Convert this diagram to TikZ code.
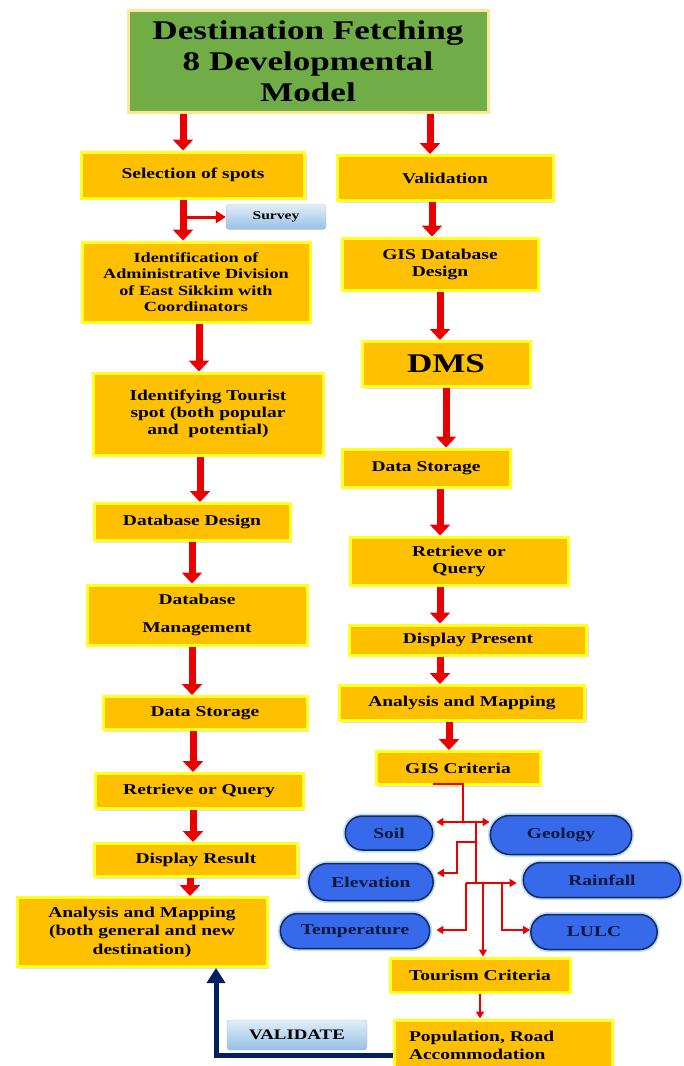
\documentclass[tikz,border=0pt]{standalone}
\usepackage{fontspec}
\setmainfont{Liberation Serif}
\newfontfamily\widefont[FakeStretch=1.3]{Liberation Serif}
\usepackage{tikz}
\usepackage{xcolor}
\usetikzlibrary{shapes.misc}
\usetikzlibrary{shadows}
\usetikzlibrary{calc}
\usetikzlibrary{positioning, arrows.meta}
\definecolor{boxfill}{RGB}{255,192,0}
\definecolor{boxedge}{RGB}{255,255,40}
\definecolor{titlefill}{RGB}{112,173,71}
\definecolor{titleedge}{RGB}{250,232,150}
\definecolor{ovalfill}{RGB}{55,105,235}
\definecolor{ovaledge}{RGB}{20,40,95}
\definecolor{ovalglow}{RGB}{190,225,250}
\definecolor{taglight}{RGB}{225,238,250}
\definecolor{tagdark}{RGB}{150,192,228}
\definecolor{arrowred}{RGB}{235,0,0}
\definecolor{backnavy}{RGB}{0,32,96}

\begin{document}
\begin{tikzpicture}[x=1pt,y=-1pt]
                % Define the styles for boxes, ovals and arrows
                \tikzstyle{box}=[draw=boxedge, line width=3pt, fill=boxfill, align=center, inner sep=2pt,
                    font=\widefont\bfseries\fontsize{15}{17}\selectfont,
                    drop shadow={opacity=0.25, shadow xshift=2pt, shadow yshift=-2pt}];
                \tikzstyle{titlebox}=[draw=titleedge, line width=3pt, fill=titlefill, align=center,
                    font=\widefont\bfseries\fontsize{27}{31}\selectfont,
                    drop shadow={opacity=0.2, shadow xshift=2pt, shadow yshift=-2pt}];
                \tikzstyle{oval}=[rounded rectangle, draw=ovaledge, line width=1.5pt, fill=ovalfill,
                    preaction={draw=ovalglow, line width=5pt},
                    text=ovaledge!60!black, font=\widefont\bfseries\fontsize{15}{17}\selectfont];
                \tikzstyle{tag}=[draw=gray!50, rounded corners=3pt, top color=taglight, bottom color=tagdark,
                    font=\widefont\bfseries\fontsize{12}{14}\selectfont, minimum height=25pt];
                \tikzstyle{bigarrow}=[draw=arrowred, line width=7pt, -{Triangle[width=20pt,length=11pt]}];
                \tikzstyle{midarrow}=[draw=arrowred, line width=3pt, -{Triangle[width=12pt,length=10pt]}];
                \tikzstyle{thinline}=[draw=arrowred, line width=2pt];
                \tikzstyle{thinarrow}=[draw=arrowred, line width=2pt, -{Triangle[width=8pt,length=7pt]}];
                \tikzstyle{backarrow}=[draw=backnavy, line width=5pt, -{Triangle[width=18pt,length=15pt]}];

                % Fix the page
                \useasboundingbox (0,0) rectangle (684,1066);

                % Title
                \node[titlebox, minimum width=360pt, minimum height=102pt] (title) at (308,61)
                    {Destination Fetching\\8 Developmental\\Model};

                % Left column
                \node[box, minimum width=223pt, minimum height=46pt] (sel) at (193,175) {Selection of spots};
                \node[tag, minimum width=100pt] (surv) at (276,217) {Survey};
                \node[box, minimum width=228pt, minimum height=80pt, font=\widefont\bfseries\fontsize{14}{16.5}\selectfont] (ident) at (196,282)
                    {Identification of\\Administrative Division\\of East Sikkim with\\Coordinators};
                \node[box, minimum width=230pt, minimum height=82pt] (tour) at (208,414)
                    {Identifying Tourist\\spot (both popular\\and\ \ potential)};
                \node[box, minimum width=196pt, minimum height=37pt] (dbd) at (192,522) {Database Design};
                \node[box, minimum width=220pt, minimum height=60pt] (dbm) at (197,615) {Database\\[11pt]Management};
                \node[box, minimum width=204pt, minimum height=33pt] (lstore) at (205,713) {Data Storage};
                \node[box, minimum width=208pt, minimum height=35pt] (lquery) at (199,791) {Retrieve or Query};
                \node[box, minimum width=203pt, minimum height=33pt] (lresult) at (196,860) {Display Result};
                \node[box, minimum width=250pt, minimum height=69pt, font=\widefont\bfseries\fontsize{15}{18.5}\selectfont] (lanal) at (142,932)
                    {Analysis and Mapping\\(both general and new\\destination)};

                % Right column
                \node[box, minimum width=216pt, minimum height=45pt] (valid) at (445,178) {Validation};
                \node[box, minimum width=196pt, minimum height=52pt] (gisdb) at (440,264) {GIS Database\\Design};
                \node[box, minimum width=168pt, minimum height=45pt, font=\widefont\bfseries\fontsize{27}{30}\selectfont] (dms) at (446,364) {DMS};
                \node[box, minimum width=168pt, minimum height=38pt] (rstore) at (426,468) {Data Storage};
                \node[box, minimum width=218pt, minimum height=48pt] (rquery) at (459,561) {Retrieve or\\Query};
                \node[box, minimum width=237pt, minimum height=30pt] (rdisp) at (468,640) {Display Present};
                \node[box, minimum width=245pt, minimum height=35pt] (ranal) at (462,703) {Analysis and Mapping};
                \node[box, minimum width=164pt, minimum height=33pt] (gisc) at (458,768) {GIS Criteria};

                % GIS criteria ovals
                \node[oval, minimum width=94pt, minimum height=34pt] (soil) at (389,833) {Soil};
                \node[oval, minimum width=148pt, minimum height=39pt] (geol) at (561,835) {Geology};
                \node[oval, minimum width=131pt, minimum height=37pt] (elev) at (371,882) {Elevation};
                \node[oval, minimum width=164pt, minimum height=35pt] (rain) at (602,880) {Rainfall};
                \node[oval, minimum width=156pt, minimum height=35pt] (temp) at (355,931) {Temperature};
                \node[oval, minimum width=133pt, minimum height=35pt] (lulc) at (594,932) {LULC};

                % Tourism criteria and the way back
                \node[box, minimum width=180pt, minimum height=34pt] (tcrit) at (480,975) {Tourism Criteria};
                \node[box, minimum height=50pt, align=left, text width=188pt, inner xsep=15pt, inner ysep=8pt,
                    font=\widefont\bfseries\fontsize{15}{18}\selectfont] (pop) at (503,1045)
                    {Population, Road\\Accommodation};
                \node[tag, minimum width=140pt, minimum height=30pt, font=\widefont\bfseries\fontsize{14.5}{16}\selectfont] (valbtn) at (297,1035) {VALIDATE};

                % Arrows of the left column
                \draw[bigarrow] ([xshift=-10pt]sel.north |- title.south) -- ([xshift=-10pt]sel.north);
                \draw[bigarrow] ([xshift=-10pt]sel.south) -- ([xshift=-10pt]sel.south |- ident.north);
                \draw[midarrow] ([xshift=-10pt]sel.south |- surv.west) -- (surv.west);
                \draw[bigarrow] ([xshift=3pt]ident.south) -- ([xshift=3pt]ident.south |- tour.north);
                \draw[bigarrow] ([xshift=-8pt]tour.south) -- ([xshift=-8pt]tour.south |- dbd.north);
                \draw[bigarrow] (dbd.south) -- (dbd.south |- dbm.north);
                \draw[bigarrow] ([xshift=-5pt]dbm.south) -- ([xshift=-5pt]dbm.south |- lstore.north);
                \draw[bigarrow] ([xshift=-12pt]lstore.south) -- ([xshift=-12pt]lstore.south |- lquery.north);
                \draw[bigarrow] ([xshift=-6pt]lquery.south) -- ([xshift=-6pt]lquery.south |- lresult.north);
                \draw[bigarrow] ([xshift=-6pt]lresult.south) -- ([xshift=-6pt]lresult.south |- lanal.north);

                % Arrows of the right column
                \draw[bigarrow] ([xshift=-15pt]valid.north |- title.south) -- ([xshift=-15pt]valid.north);
                \draw[bigarrow] ([xshift=-13pt]valid.south) -- ([xshift=-13pt]valid.south |- gisdb.north);
                \draw[bigarrow] (gisdb.south) -- (gisdb.south |- dms.north);
                \draw[bigarrow] (dms.south) -- (dms.south |- rstore.north);
                \draw[bigarrow] ([xshift=14pt]rstore.south) -- ([xshift=14pt]rstore.south |- rquery.north);
                \draw[bigarrow] ([xshift=-19pt]rquery.south) -- ([xshift=-19pt]rquery.south |- rdisp.north);
                \draw[bigarrow] ([xshift=-28pt]rdisp.south) -- ([xshift=-28pt]rdisp.south |- ranal.north);
                \draw[bigarrow] ([xshift=-13pt]ranal.south) -- ([xshift=-13pt]ranal.south |- gisc.north);

                % Branches under GIS criteria
                \coordinate (g0) at (433,784);
                \coordinate (g1) at (463,784);
                \coordinate (g2) at (463,822);
                \coordinate (g3) at (476,822);
                \coordinate (g4) at (476,883);
                \coordinate (e1) at (476,842);
                \coordinate (e2) at (457,842);
                \coordinate (e3) at (457,873);
                \coordinate (r1) at (466,883);
                \coordinate (r2) at (466,930);
                \coordinate (l1) at (502,883);
                \coordinate (l2) at (502,930);
                \coordinate (t1) at (483,883);
                \draw[thinline] (g0) -- (g1) -- (g2);
                \draw[thinline, {Triangle[width=8pt,length=7pt]}-{Triangle[width=8pt,length=7pt]}]
                    ([xshift=3pt]soil.east |- g2) -- (geol.west |- g2);
                \draw[thinline] (g3) -- (g4);
                \draw[thinarrow] (e1) -- (e2) -- (e3) -- ([xshift=3pt]elev.east |- e3);
                \draw[thinarrow] (r1) -- ([xshift=-6pt]rain.west |- r1);
                \draw[thinarrow] (r1) -- (r2) -- ([xshift=6pt]temp.east |- r2);
                \draw[thinarrow] (l1) -- (l2) -- (lulc.west |- l2);
                \draw[thinarrow] (t1) -- (t1 |- tcrit.north);
                \draw[thinarrow] (tcrit.south) -- (tcrit.south |- pop.north);

                % Validation loop back
                \coordinate (v1) at (216,1055);
                \draw[backarrow] (pop.west |- v1) -- (v1) -- (v1 |- lanal.south);
            \end{tikzpicture}
\end{document}
